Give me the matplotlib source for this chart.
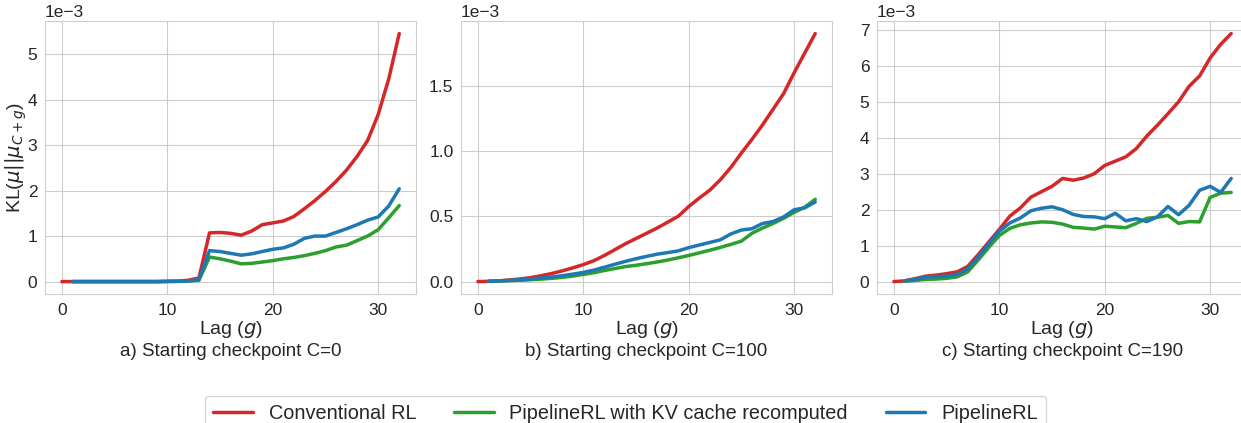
import matplotlib
matplotlib.use("Agg")
import matplotlib.pyplot as plt
import seaborn as sns

sns.set_style("whitegrid")
plt.rcParams['font.family'] = ['Liberation Sans', 'DejaVu Sans']

# lags (red starts at 0, the others at 1)
lags_red = list(range(0, 33))
lags_other = list(range(1, 33))

# panel a) C=0, values in 1e-3
a_conv = [0, 0, 0, 0, 0, 0, 0, 0, 0, 0, 0.005, 0.01, 0.03, 0.08,
          1.07, 1.08, 1.06, 1.02, 1.11, 1.25, 1.29, 1.33, 1.43, 1.6, 1.78,
          1.98, 2.2, 2.45, 2.75, 3.1, 3.67, 4.45, 5.45]
a_kv = [0, 0, 0, 0, 0, 0, 0, 0, 0, 0.003, 0.005, 0.01, 0.03,
        0.54, 0.5, 0.45, 0.39, 0.4, 0.43, 0.46, 0.5, 0.53, 0.57, 0.62,
        0.68, 0.76, 0.8, 0.9, 1.0, 1.14, 1.4, 1.67]
a_pipe = [0, 0, 0, 0, 0, 0, 0, 0, 0, 0.003, 0.006, 0.015, 0.04,
          0.68, 0.66, 0.62, 0.58, 0.61, 0.66, 0.71, 0.74, 0.82, 0.95, 1.0,
          1.0, 1.08, 1.16, 1.25, 1.35, 1.42, 1.66, 2.04]

# panel b) C=100
b_conv = [0, 0.002, 0.006, 0.012, 0.02, 0.03, 0.045, 0.062, 0.082, 0.105,
          0.13, 0.16, 0.2, 0.245, 0.29, 0.33, 0.37, 0.41, 0.455, 0.5,
          0.575, 0.64, 0.7, 0.78, 0.875, 0.985, 1.09, 1.2, 1.32, 1.44,
          1.6, 1.75, 1.9]
b_kv = [0.002, 0.004, 0.007, 0.01, 0.014, 0.019, 0.025, 0.032, 0.042,
        0.055, 0.068, 0.085, 0.1, 0.115, 0.125, 0.137, 0.15, 0.165, 0.182,
        0.2, 0.22, 0.24, 0.262, 0.285, 0.31, 0.37, 0.41, 0.445, 0.485,
        0.53, 0.57, 0.63]
b_pipe = [0.002, 0.005, 0.009, 0.013, 0.02, 0.027, 0.035, 0.045, 0.057,
          0.07, 0.088, 0.11, 0.133, 0.155, 0.175, 0.193, 0.21, 0.222, 0.235,
          0.26, 0.28, 0.3, 0.32, 0.365, 0.395, 0.405, 0.445, 0.46, 0.495,
          0.55, 0.565, 0.61]

# panel c) C=190
c_conv = [0, 0.02, 0.08, 0.15, 0.18, 0.22, 0.27, 0.42, 0.75, 1.1, 1.45,
          1.82, 2.05, 2.35, 2.5, 2.65, 2.87, 2.82, 2.88, 3.0, 3.23, 3.35,
          3.47, 3.7, 4.05, 4.35, 4.67, 5.0, 5.43, 5.72, 6.22, 6.6, 6.9]
c_kv = [0.01, 0.03, 0.06, 0.07, 0.09, 0.13, 0.27, 0.6, 0.95, 1.28, 1.48,
        1.58, 1.63, 1.66, 1.65, 1.6, 1.51, 1.49, 1.46, 1.54, 1.52, 1.5,
        1.62, 1.76, 1.79, 1.84, 1.62, 1.67, 1.66, 2.34, 2.46, 2.48]
c_pipe = [0.02, 0.06, 0.12, 0.14, 0.15, 0.2, 0.35, 0.68, 1.05, 1.4, 1.63,
          1.77, 1.97, 2.04, 2.08, 2.0, 1.87, 1.81, 1.8, 1.75, 1.9, 1.69,
          1.75, 1.67, 1.8, 2.09, 1.86, 2.12, 2.54, 2.65, 2.48, 2.87]

panels = [
    (a_conv, a_kv, a_pipe, "a) Starting checkpoint C=0", 1e-3),
    (b_conv, b_kv, b_pipe, "b) Starting checkpoint C=100", 0.5e-3),
    (c_conv, c_kv, c_pipe, "c) Starting checkpoint C=190", 1e-3),
]

fig = plt.figure(figsize=(12.41, 4.23), dpi=100)
lefts = [0.0363, 0.3715, 0.7067]
for i, (conv, kv, pipe, caption, ystep) in enumerate(panels):
    ax = fig.add_axes([lefts[i], 0.305, 0.299, 0.645])
    ax.plot(lags_red, [v * 1e-3 for v in conv], color='#d62728', lw=2.5,
            label='Conventional RL')
    ax.plot(lags_other, [v * 1e-3 for v in kv], color='#2ca02c', lw=2.5,
            label='PipelineRL with KV cache recomputed')
    ax.plot(lags_other, [v * 1e-3 for v in pipe], color='#1f77b4', lw=2.5,
            label='PipelineRL')
    ax.set_xticks([0, 10, 20, 30])
    ax.yaxis.set_major_locator(plt.MultipleLocator(ystep))
    ax.ticklabel_format(style='sci', axis='y', scilimits=(0, 0))
    ax.tick_params(axis='x', labelsize=12.5, pad=3)
    ax.tick_params(axis='y', labelsize=12.5, pad=2)
    ax.yaxis.get_offset_text().set_fontsize(12.5)
    ax.set_xlabel("Lag ($g$)", fontsize=14, labelpad=1)
    ax.text(0.5, -0.209, caption, transform=ax.transAxes, ha='center',
            va='center', fontsize=13.5)
    if i == 0:
        ax.set_ylabel(r"KL($\mu||\mu_{C+g}$)", fontsize=14, labelpad=-1)

handles, labels = ax.get_legend_handles_labels()
fig.legend(handles, labels, loc='upper center', bbox_to_anchor=(0.504, 0.064),
           borderaxespad=0, ncol=3, fontsize=14.3, frameon=True,
           handlelength=2.0, columnspacing=1.9)

fig.savefig("out.png", dpi=100)
